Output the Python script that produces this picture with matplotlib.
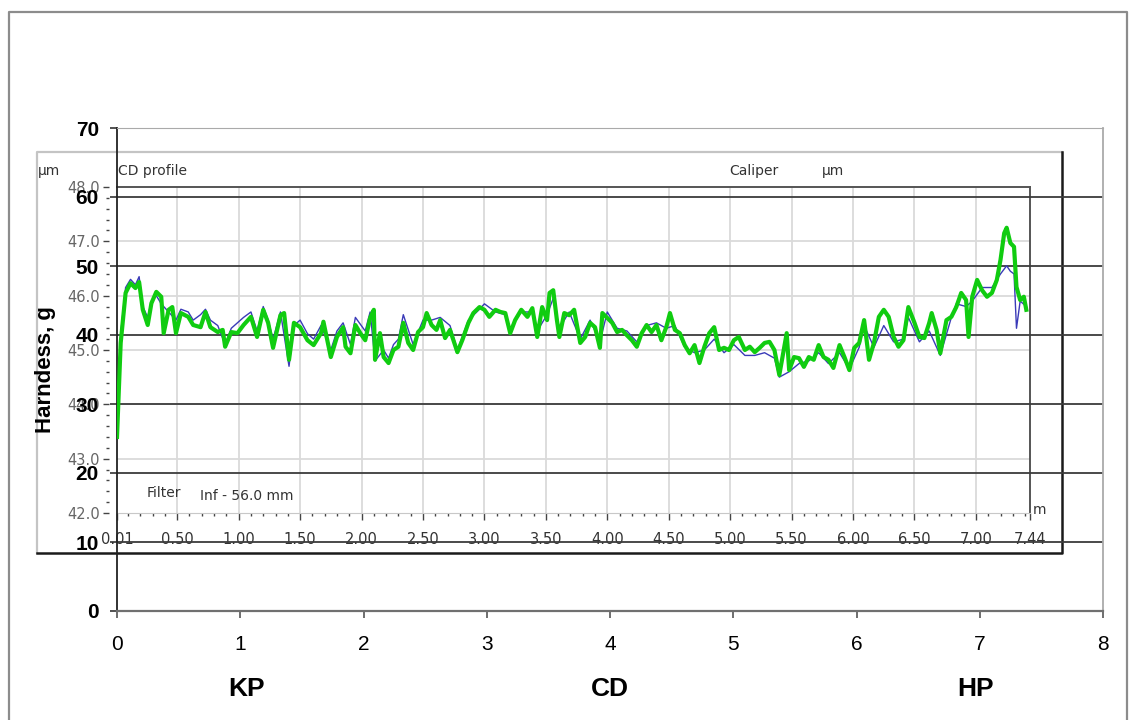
import numpy as np
import matplotlib.pyplot as plt
from matplotlib.patches import Rectangle
from matplotlib.lines import Line2D
from matplotlib.ticker import MultipleLocator, FixedLocator

# CD caliper profile (position in m, caliper in um)
pos_green = [0.01, 0.04, 0.08, 0.12, 0.16, 0.19, 0.22, 0.26, 0.29, 0.33, 0.37, 0.39, 0.43, 0.46, 0.49,
             0.53, 0.59, 0.63, 0.69, 0.73, 0.77, 0.83, 0.87, 0.89, 0.94, 0.99, 1.04, 1.10, 1.15, 1.20,
             1.24, 1.28, 1.34, 1.37, 1.41, 1.45, 1.50, 1.56, 1.61, 1.67, 1.69, 1.75, 1.80, 1.85, 1.87,
             1.91, 1.95, 1.99, 2.03, 2.07, 2.10, 2.11, 2.15, 2.18, 2.22, 2.26, 2.30, 2.34, 2.38, 2.42,
             2.46, 2.50, 2.53, 2.57, 2.61, 2.64, 2.68, 2.72, 2.78, 2.82, 2.87, 2.91, 2.96, 3.00, 3.04,
             3.09, 3.13, 3.17, 3.21, 3.25, 3.30, 3.35, 3.39, 3.43, 3.47, 3.51, 3.53, 3.56, 3.59, 3.61,
             3.65, 3.69, 3.73, 3.78, 3.82, 3.86, 3.90, 3.94, 3.96, 4.00, 4.04, 4.08, 4.12, 4.16, 4.20,
             4.24, 4.28, 4.32, 4.36, 4.40, 4.44, 4.48, 4.51, 4.55, 4.59, 4.63, 4.67, 4.71, 4.75, 4.79,
             4.83, 4.87, 4.91, 4.95, 4.99, 5.03, 5.07, 5.12, 5.16, 5.20, 5.24, 5.28, 5.32, 5.36, 5.40,
             5.44, 5.46, 5.48, 5.52, 5.56, 5.60, 5.64, 5.68, 5.72, 5.76, 5.80, 5.84, 5.89, 5.93, 5.97,
             6.01, 6.05, 6.09, 6.13, 6.17, 6.21, 6.25, 6.29, 6.33, 6.37, 6.41, 6.45, 6.50, 6.54, 6.58,
             6.62, 6.64, 6.68, 6.71, 6.76, 6.80, 6.84, 6.88, 6.92, 6.94, 6.97, 7.01, 7.05, 7.09, 7.13,
             7.17, 7.20, 7.23, 7.25, 7.28, 7.31, 7.33, 7.36, 7.39, 7.41]
cal_green = [43.40, 45.13, 46.05, 46.23, 46.14, 46.25, 45.74, 45.46, 45.86, 46.07, 45.98, 45.31, 45.74, 45.79, 45.31,
             45.68, 45.61, 45.46, 45.42, 45.70, 45.42, 45.33, 45.37, 45.06, 45.33, 45.31, 45.46, 45.61, 45.24, 45.74,
             45.50, 45.04, 45.64, 45.68, 44.82, 45.50, 45.42, 45.18, 45.09, 45.31, 45.52, 44.87, 45.24, 45.42, 45.06,
             44.94, 45.46, 45.31, 45.18, 45.59, 45.74, 44.82, 45.31, 44.87, 44.76, 45.00, 45.06, 45.50, 45.13, 45.00,
             45.33, 45.42, 45.68, 45.46, 45.37, 45.55, 45.22, 45.37, 44.96, 45.18, 45.50, 45.68, 45.79, 45.74, 45.61,
             45.74, 45.70, 45.68, 45.31, 45.55, 45.74, 45.61, 45.77, 45.24, 45.79, 45.55, 46.05, 46.10, 45.55, 45.24,
             45.68, 45.64, 45.74, 45.13, 45.24, 45.50, 45.42, 45.04, 45.68, 45.59, 45.50, 45.33, 45.37, 45.27, 45.18,
             45.06, 45.31, 45.46, 45.33, 45.46, 45.18, 45.42, 45.68, 45.37, 45.31, 45.09, 44.94, 45.09, 44.76, 45.06,
             45.31, 45.42, 45.00, 45.04, 45.00, 45.18, 45.24, 45.00, 45.06, 44.96, 45.04, 45.13, 45.15, 45.00, 44.54,
             45.06, 45.31, 44.63, 44.87, 44.85, 44.69, 44.87, 44.82, 45.09, 44.87, 44.82, 44.67, 45.09, 44.87, 44.63,
             45.04, 45.13, 45.55, 44.82, 45.13, 45.61, 45.74, 45.61, 45.24, 45.06, 45.18, 45.79, 45.50, 45.24, 45.22,
             45.50, 45.68, 45.37, 44.94, 45.55, 45.61, 45.79, 46.05, 45.92, 45.24, 45.98, 46.29, 46.10, 45.98, 46.05,
             46.29, 46.66, 47.15, 47.25, 46.97, 46.90, 46.16, 45.92, 45.98, 45.74]

pos_blue = [0.01, 0.04, 0.08, 0.12, 0.16, 0.19, 0.22, 0.26, 0.29, 0.33, 0.37, 0.43, 0.49, 0.53, 0.59,
            0.63, 0.69, 0.73, 0.77, 0.83, 0.89, 0.94, 0.99, 1.04, 1.10, 1.15, 1.20, 1.24, 1.28, 1.34,
            1.41, 1.45, 1.50, 1.56, 1.61, 1.67, 1.75, 1.80, 1.85, 1.91, 1.95, 2.03, 2.07, 2.11, 2.18,
            2.22, 2.26, 2.30, 2.34, 2.42, 2.50, 2.57, 2.64, 2.72, 2.78, 2.87, 2.96, 3.00, 3.09, 3.17,
            3.21, 3.30, 3.39, 3.43, 3.51, 3.56, 3.61, 3.69, 3.78, 3.86, 3.94, 4.00, 4.08, 4.16, 4.24,
            4.32, 4.40, 4.48, 4.55, 4.63, 4.71, 4.79, 4.87, 4.95, 5.03, 5.12, 5.20, 5.28, 5.36, 5.40,
            5.48, 5.56, 5.64, 5.72, 5.80, 5.89, 5.97, 6.05, 6.09, 6.17, 6.25, 6.33, 6.41, 6.45, 6.54,
            6.62, 6.71, 6.80, 6.84, 6.92, 6.97, 7.05, 7.13, 7.20, 7.25, 7.28, 7.31, 7.33, 7.36, 7.41]
cal_blue = [43.70, 45.30, 46.15, 46.30, 46.20, 46.35, 45.80, 45.60, 45.90, 46.00, 45.85, 45.70, 45.55, 45.75, 45.70,
            45.55, 45.65, 45.75, 45.55, 45.45, 45.10, 45.40, 45.50, 45.60, 45.70, 45.35, 45.80, 45.55, 45.20, 45.70,
            44.70, 45.45, 45.55, 45.30, 45.20, 45.45, 45.00, 45.35, 45.50, 45.10, 45.60, 45.35, 45.70, 44.80, 45.00,
            44.85, 45.10, 45.20, 45.65, 45.10, 45.55, 45.55, 45.60, 45.45, 45.00, 45.55, 45.75, 45.85, 45.70, 45.65,
            45.40, 45.70, 45.70, 45.35, 45.65, 45.95, 45.40, 45.70, 45.20, 45.55, 45.15, 45.70, 45.40, 45.35, 45.15,
            45.45, 45.50, 45.40, 45.45, 45.05, 44.95, 45.00, 45.20, 44.95, 45.10, 44.90, 44.90, 44.95, 44.85, 44.50,
            44.60, 44.75, 44.80, 44.95, 44.75, 44.95, 44.65, 45.05, 45.45, 45.05, 45.45, 45.15, 45.20, 45.60, 45.15,
            45.35, 44.90, 45.60, 45.85, 45.80, 45.90, 46.15, 46.15, 46.40, 46.55, 46.45, 46.40, 45.40, 45.90, 45.80]

inner_xticks = [0.01, 0.5, 1.0, 1.5, 2.0, 2.5, 3.0, 3.5, 4.0, 4.5, 5.0, 5.5, 6.0, 6.5, 7.0, 7.44]
inner_xlabels = ['0.01', '0.50', '1.00', '1.50', '2.00', '2.50', '3.00', '3.50',
                 '4.00', '4.50', '5.00', '5.50', '6.00', '6.50', '7.00', '7.44']
inner_yticks = [42, 43, 44, 45, 46, 47, 48]
inner_ylabels = ['42.0', '43.0', '44.0', '45.0', '46.0', '47.0', '48.0']
outer_xticks = [0, 1, 2, 3, 4, 5, 6, 7, 8]
outer_yticks = [0, 10, 20, 30, 40, 50, 60, 70]
zones = ['KP', 'CD', 'HP']
zone_x = [1.05, 4.0, 6.97]

W, H = 1131, 720


def box(x0, y0, x1, y1):
    return [x0 / W, 1 - y1 / H, (x1 - x0) / W, (y1 - y0) / H]


def fx(x):
    return x / W


def fy(y):
    return 1 - y / H


fig = plt.figure(figsize=(W / 100, H / 100), dpi=100)

# outer frame of the picture
fig.add_artist(Line2D([fx(9), fx(9), fx(1127), fx(1127)], [fy(730), fy(12), fy(12), fy(730)],
                      color='#8c8c8c', lw=1.6, zorder=0))

# embedded screenshot panel
fig.add_artist(Rectangle((fx(37), fy(553)), fx(1062) - fx(37), fy(152) - fy(553),
                         facecolor='white', edgecolor='none', zorder=0.5))
fig.add_artist(Line2D([fx(37), fx(37), fx(1062)], [fy(553), fy(152), fy(152)],
                      color='#c4c4c4', lw=1.6, zorder=0.6))
fig.add_artist(Line2D([fx(37), fx(1062), fx(1062)], [fy(553), fy(553), fy(152)],
                      color='#1a1a1a', lw=1.8, zorder=0.6))

# inner CD profile axes
ax_in = fig.add_axes(box(117, 187, 1030, 513), zorder=1)
ax_in.patch.set_alpha(0)
ax_in.set_xlim(0.01, 7.44)
ax_in.set_ylim(42, 48)
for v in np.arange(0.5, 7.01, 0.5):
    ax_in.axvline(v, color='#dadada', lw=1.3, zorder=0)
for v in inner_yticks[1:-1]:
    ax_in.axhline(v, color='#dadada', lw=1.3, zorder=0)
ax_in.spines['top'].set_color('#555555')
ax_in.spines['top'].set_linewidth(1.4)
ax_in.spines['right'].set_color('#555555')
ax_in.spines['right'].set_linewidth(1.4)
ax_in.spines['bottom'].set_color('#c8c8c8')
ax_in.spines['left'].set_visible(False)
ax_in.spines['left'].set_position(('outward', 6))
ax_in.xaxis.set_major_locator(FixedLocator(inner_xticks))
ax_in.set_xticklabels(inner_xlabels)
ax_in.xaxis.set_minor_locator(MultipleLocator(0.1))
ax_in.yaxis.set_major_locator(FixedLocator(inner_yticks))
ax_in.set_yticklabels(inner_ylabels)
ax_in.yaxis.set_minor_locator(MultipleLocator(0.2))
ax_in.tick_params(axis='x', which='major', length=5, width=1, color='#444444',
                  labelsize=10.5, labelcolor='#333333', pad=9)
ax_in.tick_params(axis='x', which='minor', length=2.5, width=1, color='#444444')
ax_in.tick_params(axis='y', which='major', length=4.5, width=1, color='#444444',
                  labelsize=10.5, labelcolor='#666666', pad=2)
ax_in.tick_params(axis='y', which='minor', length=2.5, width=1, color='#444444')

# outer hardness axes
ax_out = fig.add_axes(box(117, 128, 1103, 611), zorder=2)
ax_out.patch.set_alpha(0)
ax_out.set_xlim(0, 8)
ax_out.set_ylim(0, 70)
for v in outer_yticks[1:-1]:
    ax_out.axhline(v, color='#3c3c3c', lw=1.3)
ax_out.spines['left'].set_color('#222222')
ax_out.spines['left'].set_linewidth(1.3)
ax_out.spines['bottom'].set_color('#707070')
ax_out.spines['bottom'].set_linewidth(1.6)
ax_out.spines['top'].set_color('#aaaaaa')
ax_out.spines['right'].set_color('#aaaaaa')
ax_out.spines['right'].set_linewidth(1.3)
ax_out.set_xticks(outer_xticks)
ax_out.set_yticks(outer_yticks)
ax_out.tick_params(axis='x', length=5, width=1.2, color='#555555', pad=12, labelsize=15)
ax_out.tick_params(axis='y', length=5, width=1.2, color='#333333', pad=8, labelsize=15)
for lab in ax_out.get_xticklabels():
    lab.set_family('Liberation Sans')
for lab in ax_out.get_yticklabels():
    lab.set_family('Liberation Sans')
    lab.set_fontweight('bold')

# profile traces on top
ax_tr = fig.add_axes(box(117, 187, 1030, 513), zorder=3)
ax_tr.set_xlim(0.01, 7.44)
ax_tr.set_ylim(42, 48)
ax_tr.axis('off')
ax_tr.plot(pos_blue, cal_blue, color='#3a3ab8', lw=1.0)
ax_tr.plot(pos_green, cal_green, color='#10cc10', lw=3.0)

# texts
fig.text(fx(38), fy(171), 'µm', fontsize=10, color='#333333', va='center')
fig.text(fx(118), fy(171), 'CD profile', fontsize=10, color='#333333', va='center')
fig.text(fx(729), fy(171), 'Caliper', fontsize=10, color='#333333', va='center')
fig.text(fx(822), fy(171), 'µm', fontsize=10, color='#333333', va='center')
fig.text(fx(147), fy(493), 'Filter', fontsize=10, color='#333333', va='center')
fig.text(fx(200), fy(496), 'Inf - 56.0 mm', fontsize=10, color='#333333', va='center')
fig.text(fx(1033), fy(510), 'm', fontsize=10, color='#333333', va='center')

fig.text(fx(46), fy(370), 'Harndess, g', rotation=90, fontsize=16, fontweight='bold',
         family='Liberation Sans', ha='center', va='center')
for z, zx in zip(zones, zone_x):
    fig.text(ax_out.transData.transform((zx, 0))[0] / W, fy(689), z, fontsize=19,
             fontweight='bold', family='Liberation Sans', ha='center', va='center')

fig.savefig('out.png', dpi=100)
